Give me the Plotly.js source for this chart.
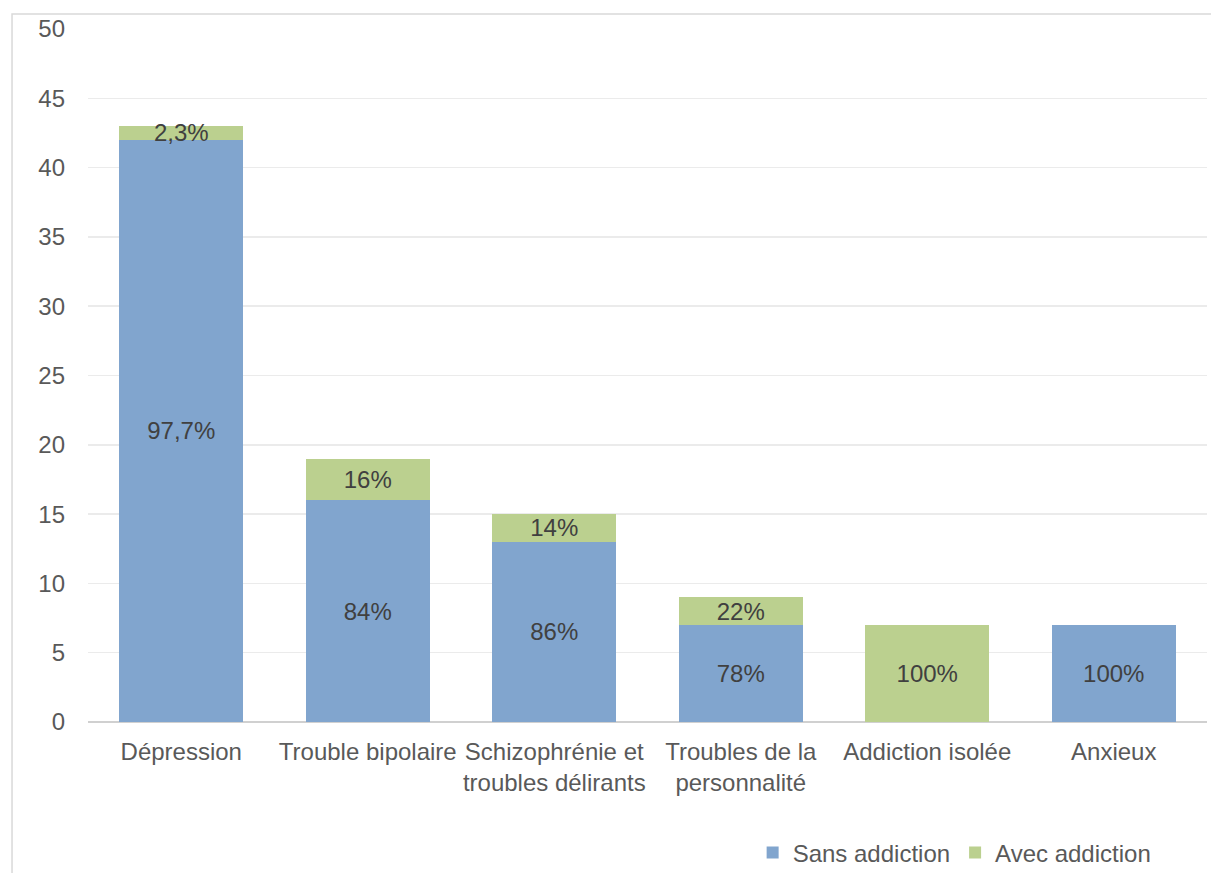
<!DOCTYPE html>
<html>
<head>
<meta charset="utf-8">
<script src="https://cdn.plot.ly/plotly-3.0.1.min.js"></script>
<style>html,body{margin:0;padding:0;background:#fff;}</style>
</head>
<body>
<div id="chart" style="width:1211px;height:873px;"></div>
<script>
const categories = ["Dépression", "Trouble bipolaire", "Schizophrénie et<br>troubles délirants", "Troubles de la<br>personnalité", "Addiction isolée", "Anxieux"];
const sansAddiction = [42, 16, 13, 7, 0, 7];
const avecAddiction = [1, 3, 2, 2, 7, 0];
const sansLabels = ["97,7%", "84%", "86%", "78%", "", "100%"];
const avecLabels = ["2,3%", "16%", "14%", "22%", "100%", ""];
const yTicks = [0, 5, 10, 15, 20, 25, 30, 35, 40, 45, 50];

const FONT = "Liberation Sans, Arial, sans-serif";
const FS = 24;
const common = {
  type: "bar",
  x: categories,
  textposition: "inside",
  insidetextanchor: "middle",
  constraintext: "none",
  textangle: 0,
  textfont: {family: FONT, size: FS, color: "#404040"},
  hoverinfo: "skip"
};

const traces = [
  Object.assign({}, common, {
    name: "Sans addiction",
    y: sansAddiction,
    text: sansLabels,
    marker: {color: "#81a5ce"}
  }),
  Object.assign({}, common, {
    name: "Avec addiction",
    y: avecAddiction,
    text: avecLabels,
    marker: {color: "#bbd08f"}
  })
];

const layout = {
  width: 1211,
  height: 873,
  barmode: "stack",
  bargap: 0.335,
  margin: {l: 88, r: 4, t: 29, b: 151},
  paper_bgcolor: "#ffffff",
  plot_bgcolor: "#ffffff",
  font: {family: FONT, size: FS, color: "#595959"},
  showlegend: true,
  legend: {
    orientation: "h",
    xref: "container", yref: "container",
    x: 0.6215, xanchor: "left",
    y: 0.0229, yanchor: "middle",
    font: {family: FONT, size: FS, color: "#595959"},
    traceorder: "normal",
    itemwidth: 30,
    bgcolor: "rgba(0,0,0,0)"
  },
  xaxis: {
    tickfont: {family: FONT, size: FS, color: "#595959"},
    showgrid: false,
    showline: false,
    ticks: "",
    ticklabelstandoff: 13,
    automargin: false,
    fixedrange: true
  },
  yaxis: {
    range: [0, 50],
    tickvals: yTicks,
    tickfont: {family: FONT, size: FS, color: "#595959"},
    showgrid: true,
    gridcolor: "#ebebeb",
    gridwidth: 1.5,
    zeroline: true,
    zerolinecolor: "#d0d0d0",
    zerolinewidth: 1.5,
    showline: false,
    ticks: "",
    ticklabelstandoff: 22,
    automargin: false,
    fixedrange: true
  },
  shapes: [{
    type: "rect",
    xref: "paper", yref: "paper",
    x0: -0.0679, x1: 1.2,
    y0: -0.5, y1: 1.0216,
    line: {color: "#d9d9d9", width: 1.5},
    fillcolor: "rgba(0,0,0,0)",
    layer: "below"
  }]
};

Plotly.newPlot("chart", traces, layout, {staticPlot: true, displayModeBar: false});
</script>
</body>
</html>
